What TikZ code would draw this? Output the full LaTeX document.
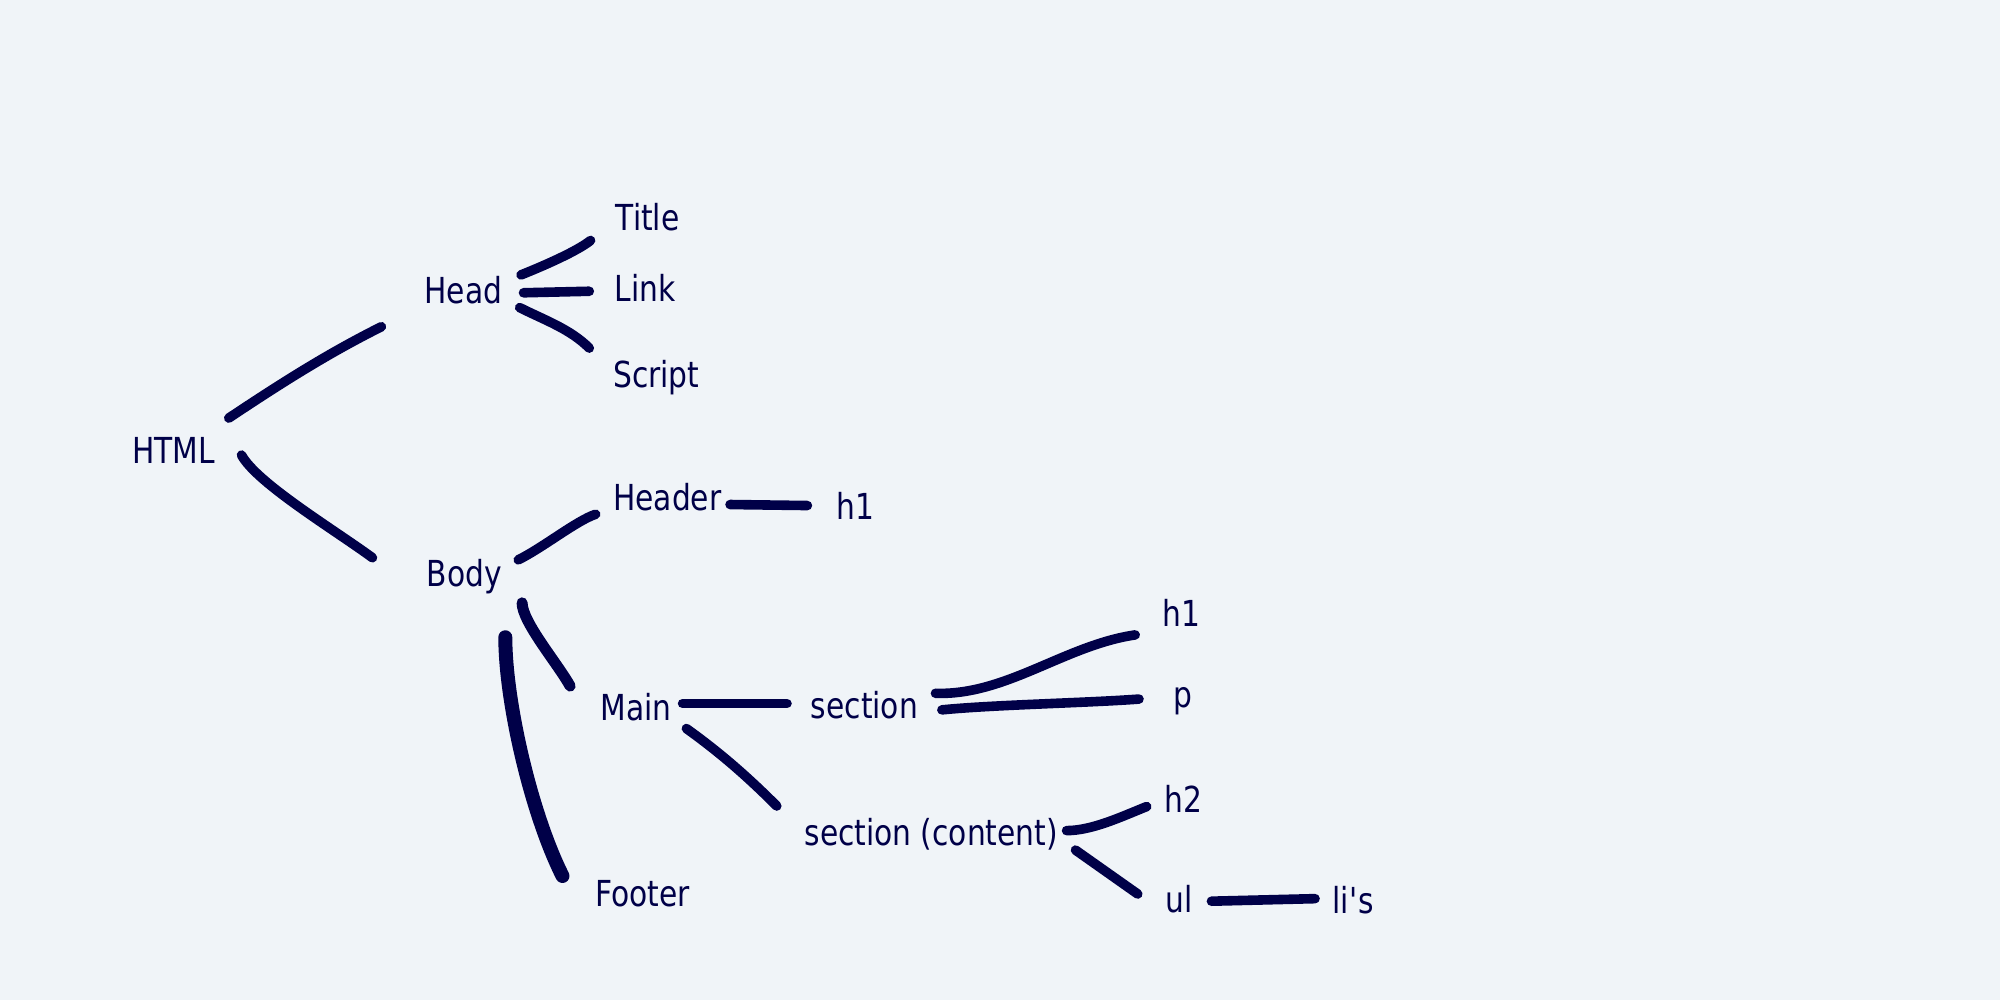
\documentclass[tikz,border=0pt]{standalone}
\usepackage{fontspec}
\setmainfont{DejaVu Sans}[FakeStretch=0.83]
\definecolor{inkblue}{RGB}{0,0,72}
\definecolor{paper}{RGB}{240,244,248}

\tikzset{every picture/.style={line width=0.75pt}}
\tikzset{
  tag/.style={anchor=base west,inner sep=0.75pt,text=inkblue,font=\fontsize{17.9}{21}\selectfont},
  stroke/.style={draw=inkblue,line width=4.8pt,line cap=round,line join=round},
}

\begin{document}
\begin{tikzpicture}[x=0.6378pt,y=-0.6378pt]
%set diagram left start at 0, and has size 1568 x 784
\fill[paper] (0,0) rectangle (1568,784);

% Text Node
\node[tag] (html) at (102,363) {HTML};
% Text Node
\node[tag] (head) at (331,238) {Head};
% Text Node
\node[tag] (title) at (481,181) {Title};
% Text Node
\node[tag] (link) at (480,236) {Link};
% Text Node
\node[tag] (script) at (479,304) {Script};
% Text Node
\node[tag] (body) at (333,460) {Body};
% Text Node
\node[tag] (header) at (479,400) {Header};
% Text Node
\node[tag] (headh) at (654,407) {h1};
% Text Node
\node[tag] (main) at (469,565) {Main};
% Text Node
\node[tag] (section) at (634,563) {section};
% Text Node
\node[tag] (footer) at (465,711) {Footer};
% Text Node
\node[tag] (content) at (629,663) {section (content)};
% Text Node
\node[tag] (secth) at (910,491) {h1};
% Text Node
\node[tag] (sectp) at (918,555) {p};
% Text Node
\node[tag] (conth) at (911,637) {h2};
% Text Node
\node[tag] (list) at (912,715) {ul};
% Text Node
\node[tag] (items) at (1043,716) {li\textquotesingle s};

%Curve Lines
\draw[stroke] ([shift={(9,-13)}]html.north east) .. controls +(45,-30) and +(-40,20) .. ([shift={(-32,16)}]head.south west);
%Curve Lines
\draw[stroke] ([shift={(19,4)}]html.east) .. controls +(12,22) and +(-30,-22) .. ([shift={(-41,-15)}]body.west);
%Curve Lines
\draw[stroke] ([shift={(13,-12)}]head.east) .. controls +(20,-8) and +(-10,8) .. ([shift={(-18,18)}]title.west);
%Straight Lines
\draw[stroke] ([shift={(15,2)}]head.east) -- ([shift={(-18,3)}]link.west);
%Curve Lines
\draw[stroke] ([shift={(12,1)}]head.south east) .. controls +(20,10) and +(-15,-15) .. ([shift={(-17,-8)}]script.north west);
%Curve Lines
\draw[stroke] ([shift={(11,2)}]body.north east) .. controls +(20,-10) and +(-15,5) .. ([shift={(-12,1)}]header.south west);
%Straight Lines
\draw[stroke] ([shift={(5,6)}]header.east) -- ([shift={(-21,0)}]headh.west);
%Curve Lines
\draw[stroke,line width=5.5pt] ([shift={(14,5)}]body.south east) .. controls +(0,15) and +(-10,-18) .. ([shift={(-22,-4)}]main.north west);
%Curve Lines
\draw[stroke,line width=7pt] ([shift={(32,32)}]body.south) .. controls +(0,50) and +(-25,-50) .. ([shift={(-24,-2)}]footer.north west);
%Straight Lines
\draw[stroke] ([shift={(7,-3)}]main.east) -- ([shift={(-17,-1)}]section.west);
%Curve Lines
\draw[stroke] ([shift={(10,4)}]main.south east) .. controls +(25,18) and +(-25,-25) .. ([shift={(-20,-8)}]content.north west);
%Curve Lines
\draw[stroke] ([shift={(12,-9)}]section.east) .. controls +(55,2) and +(-55,8) .. ([shift={(-20,5)}]secth.south west);
%Curve Lines
\draw[stroke] ([shift={(17,4)}]section.east) .. controls +(40,-4) and +(-40,3) .. ([shift={(-25,-2)}]sectp.west);
%Curve Lines
\draw[stroke] ([shift={(5,-3)}]content.east) .. controls +(20,0) and +(-20,8) .. ([shift={(-12,6)}]conth.west);
%Straight Lines
\draw[stroke] ([shift={(12,-2)}]content.south east) -- ([shift={(-20,9)}]list.north west);
%Straight Lines
\draw[stroke] ([shift={(13,2)}]list.east) -- ([shift={(-12,-1)}]items.west);

\end{tikzpicture}
\end{document}
